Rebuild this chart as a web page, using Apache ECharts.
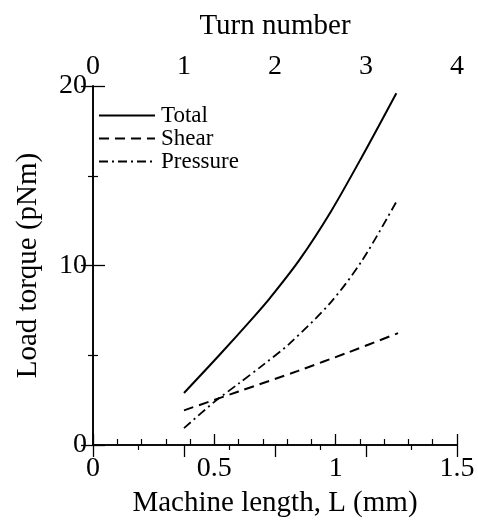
<!DOCTYPE html>
<html>
<head>
<meta charset="utf-8">
<script src="https://cdn.jsdelivr.net/npm/echarts@6/dist/echarts.min.js"></script>
<style>html,body{margin:0;padding:0;background:#fff;}#c{width:478px;height:523px;}</style>
</head>
<body>
<div id="c"></div>
<script>
// Machine length L (mm) and load torque (pNm)
const totalL = [0.375, 0.52, 0.66, 0.73, 0.85, 0.98, 1.11, 1.25];
const totalT = [2.9, 5.0, 7.1, 8.2, 10.3, 13.0, 16.1, 19.6];
const shearL = [0.375, 0.60, 0.845, 1.05, 1.257];
const shearT = [1.93, 2.98, 4.13, 5.15, 6.23];
const pressureL = [0.375, 0.50, 0.60, 0.70, 0.81, 0.98, 1.11, 1.25];
const pressureT = [0.94, 2.4, 3.42, 4.45, 5.65, 7.95, 10.3, 13.55];
const seriesNames = ['Total', 'Shear', 'Pressure'];

const FONT = '"Liberation Serif", "DejaVu Serif", serif';
const pair = (xs, ys) => xs.map((x, i) => [x, ys[i]]);

const chart = echarts.init(document.getElementById('c'), null, {renderer: 'canvas'});
const axisLine = {show: true, lineStyle: {color: '#000', width: 1.6}};
chart.setOption({
  animation: false,
  backgroundColor: '#fff',
  textStyle: {fontFamily: FONT, color: '#000'},
  grid: {left: 93, right: 21, top: 86, bottom: 74, containLabel: false},
  legend: {
    orient: 'vertical', left: 98, top: 104, padding: 0, itemGap: 0,
    itemWidth: 56, itemHeight: 14,
    itemStyle: {opacity: 0},
    textStyle: {fontFamily: FONT, fontSize: 23, lineHeight: 23, color: '#000', padding: [0, 0, 0, 1]},
    data: seriesNames
  },
  xAxis: [{
    type: 'value', position: 'bottom', min: 0, max: 1.5, interval: 0.5,
    name: 'Machine length, L (mm)', nameLocation: 'middle', nameGap: 44,
    nameTextStyle: {fontFamily: FONT, fontSize: 29, color: '#000'},
    axisLine: axisLine,
    axisTick: {show: true, inside: true, length: 11, lineStyle: {color: '#000', width: 1.3}},
    minorTick: {show: true, splitNumber: 5, length: 6, lineStyle: {color: '#000', width: 1.2}},
    axisLabel: {fontFamily: FONT, fontSize: 28, color: '#000', margin: 10},
    splitLine: {show: false}
  }, {
    type: 'value', position: 'top', min: 0, max: 4, interval: 1,
    name: 'Turn number', nameLocation: 'middle', nameGap: 45,
    nameTextStyle: {fontFamily: FONT, fontSize: 29, color: '#000'},
    axisLine: axisLine,
    axisTick: {show: true, inside: true, length: 12, lineStyle: {color: '#000', width: 1.3}},
    minorTick: {show: true, splitNumber: 2, length: 5, lineStyle: {color: '#000', width: 1.2}},
    axisLabel: {fontFamily: FONT, fontSize: 28, color: '#000', margin: 5},
    splitLine: {show: false}
  }],
  yAxis: [{
    type: 'value', position: 'left', min: 0, max: 20, interval: 10,
    name: 'Load torque (pNm)', nameLocation: 'middle', nameGap: 50,
    nameTextStyle: {fontFamily: FONT, fontSize: 29, color: '#000'},
    axisLine: axisLine,
    axisTick: {show: true, inside: true, length: 12, lineStyle: {color: '#000', width: 1.3}},
    minorTick: {show: true, splitNumber: 2, length: 5, lineStyle: {color: '#000', width: 1.2}},
    axisLabel: {fontFamily: FONT, fontSize: 28, color: '#000', margin: 6},
    splitLine: {show: false}
  }, {
    type: 'value', position: 'right', min: 0, max: 20, interval: 10,
    axisLine: axisLine,
    axisTick: {show: true, inside: true, length: 12, lineStyle: {color: '#000', width: 1.3}},
    minorTick: {show: true, splitNumber: 2, length: 5, lineStyle: {color: '#000', width: 1.2}},
    axisLabel: {show: false},
    splitLine: {show: false}
  }],
  series: [{
    name: seriesNames[0], type: 'line', smooth: 0.3, symbol: 'none',
    data: pair(totalL, totalT),
    lineStyle: {color: '#000', width: 2, type: 'solid'},
    itemStyle: {color: '#000'}
  }, {
    name: seriesNames[1], type: 'line', smooth: 0.3, symbol: 'none',
    data: pair(shearL, shearT),
    lineStyle: {color: '#000', width: 2, type: [10, 6]},
    itemStyle: {color: '#000'}
  }, {
    name: seriesNames[2], type: 'line', smooth: 0.3, symbol: 'none',
    data: pair(pressureL, pressureT),
    lineStyle: {color: '#000', width: 1.8, type: [9, 4, 2, 4]},
    itemStyle: {color: '#000'}
  }]
});
</script>
</body>
</html>
